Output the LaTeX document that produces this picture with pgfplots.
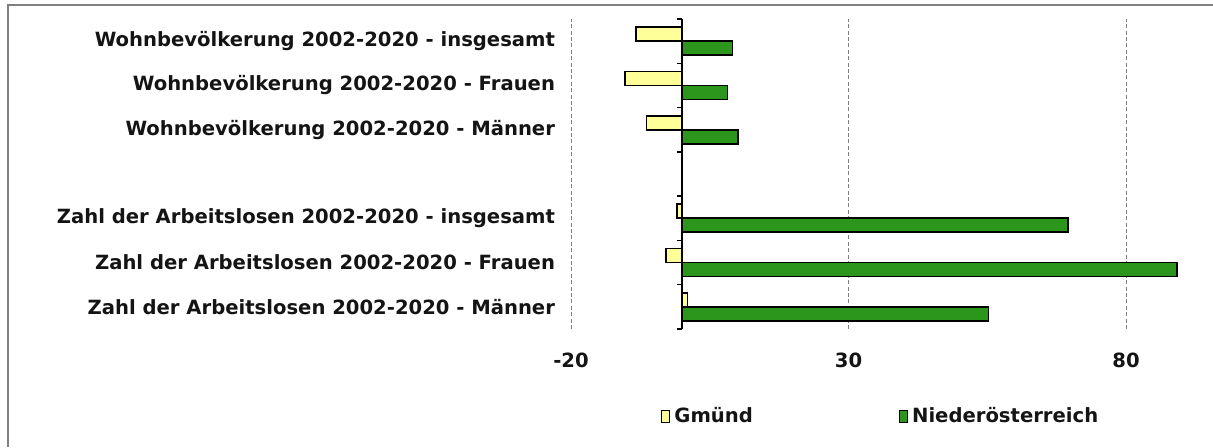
\documentclass[border=0pt]{standalone}
\usepackage{fontspec}
\setmainfont{DejaVu Sans}
\usepackage{pgfplots}
\pgfplotsset{compat=1.18}
\definecolor{gm}{RGB}{255,255,153}
\definecolor{noe}{RGB}{44,150,28}
\definecolor{framegray}{RGB}{128,128,128}
\definecolor{txt}{RGB}{20,20,20}
\begin{document}
\begin{tikzpicture}
\path[use as bounding box] (0,0) rectangle (606.5pt,223.5pt);
\draw[framegray, line width=1.1pt] (4pt,0) -- (4pt,221pt) -- (606.5pt,221pt);
\begin{axis}[
  at={(285.5pt,59pt)}, anchor=south west,
  scale only axis, width=305.25pt, height=155pt,
  xbar, bar width=7pt,
  xmin=-20, xmax=90, ymin=-0.5, ymax=6.5,
  axis line style={draw=none},
  xtick={-20,30,80}, ytick={0,1,2,4,5,6},
  yticklabels={Zahl der Arbeitslosen 2002-2020 - Männer,
               Zahl der Arbeitslosen 2002-2020 - Frauen,
               Zahl der Arbeitslosen 2002-2020 - insgesamt,
               Wohnbevölkerung 2002-2020 - Männer,
               Wohnbevölkerung 2002-2020 - Frauen,
               Wohnbevölkerung 2002-2020 - insgesamt},
  major tick length=0pt,
  xmajorgrids, grid style={gray, dash pattern=on 2pt off 1.2pt, line width=0.5pt},
  tick label style={font=\fontsize{9.8}{11}\selectfont\bfseries, text=txt},
  xticklabel style={yshift=-8.5pt},
  yticklabel style={xshift=-4.5pt},
  /pgf/number format/assume math mode=true,
  legend columns=2,
  legend style={at={(0.509,-0.283)}, anchor=center, draw=none, fill=none,
    font=\fontsize{9.8}{11}\selectfont\bfseries, text=txt,
    /tikz/every even column/.append style={column sep=71pt}},
  legend image code/.code={\draw[#1, line width=0.6pt] (0pt,-3pt) rectangle (4pt,3pt);},
  clip=false,
]
\addplot[fill=gm, draw=black, line width=0.8pt, bar shift=3.5pt] coordinates {
  (-8.3,6) (-10.3,5) (-6.4,4) (-0.9,2) (-2.9,1) (1.0,0)};
\addplot[fill=noe, draw=black, line width=0.8pt, bar shift=-3.5pt] coordinates {
  (9.1,6) (8.2,5) (10.1,4) (69.5,2) (89.2,1) (55.2,0)};
\legend{Gmünd, Niederösterreich}
\draw[black, line width=0.7pt] (axis cs:0,-0.5) -- (axis cs:0,6.5);
\pgfplotsinvokeforeach{-0.5,0.5,1.5,2.5,3.5,4.5,5.5,6.5}{
  \draw[black, line width=0.7pt] (axis cs:0,#1) -- ++(-2.5pt,0pt);
}
\end{axis}
\end{tikzpicture}
\end{document}
